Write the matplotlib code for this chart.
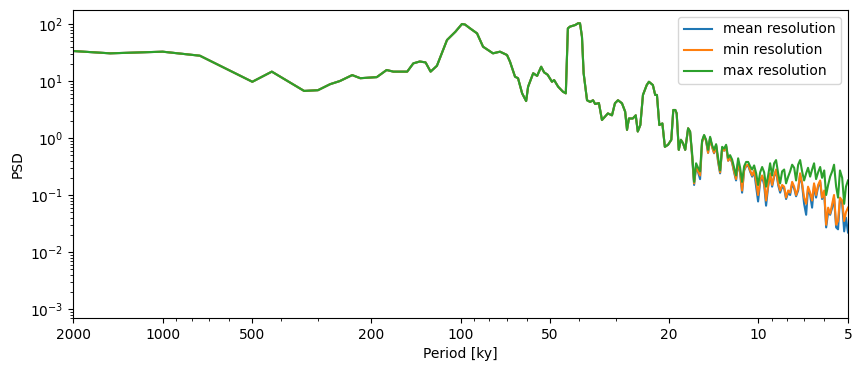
import matplotlib
matplotlib.use("Agg")
import matplotlib.pyplot as plt

# Shared part of the spectrum (periods > ~17 ky), where all three curves overlap
period_common = [2000, 1500, 1000, 750, 500, 430, 335, 301, 274, 254, 231, 217, 191, 177,
                 168, 151, 144, 137, 131, 126, 120, 111, 104, 98.9, 96.6, 92.9, 88.0, 84.0,
                 77.8, 73.7, 69.8, 68.2, 65.6, 64.1, 62.1, 60.2, 59.3, 57.0, 55.3, 53.6,
                 52.4, 51.0, 49.3, 48.5, 47.0, 45.3, 44.3, 43.6, 42.9, 41.2, 40.3, 39.7,
                 39.1, 38.6, 37.6, 36.7, 35.9, 35.3, 34.3, 33.5, 32.7, 32.0, 31.0, 30.3,
                 29.6, 28.7, 28.0, 27.6, 27.2, 26.4, 25.8, 25.4, 24.9, 24.4, 23.7, 23.3,
                 22.6, 22.2, 21.9, 21.5, 21.0, 20.6, 20.1, 19.6, 19.3, 19.0, 18.8, 18.5,
                 18.2, 17.9, 17.6]
psd_common = [33.6, 30.6, 32.7, 27.8, 9.7, 14.6, 6.7, 6.9, 8.8, 10.0, 12.7, 11.2, 11.7, 15.6,
              14.6, 14.6, 20.4, 22.0, 21.2, 14.6, 18.5, 52.4, 73.3, 100, 98, 84, 68.6, 40,
              30.6, 32.7, 28.6, 21.8, 11.9, 11.2, 6.08, 4.45, 7.94, 13.7, 12.3, 17.8,
              14.2, 12.9, 9.7, 10.4, 7.94, 6.5, 6.08, 84, 90, 96, 103, 103,
              60, 13.7, 4.6, 4.3, 4.6, 3.95, 4.1, 2.07, 2.38, 2.7, 2.5, 4.07,
              4.6, 4.07, 2.9, 1.39, 2.2, 2.2, 2.5, 1.3, 1.69, 5.7, 8.5, 9.7,
              8.5, 5.7, 5.7, 1.69, 1.8, 0.70, 0.76, 0.93, 3.1, 3.1, 2.7, 0.62,
              0.93, 0.81, 0.62]

# High-frequency tail, where the three resolutions separate
period_tail = [17.21, 16.95, 16.69, 16.43, 16.18, 15.93, 15.69, 15.45, 15.21, 14.98,
               14.75, 14.52, 14.30, 14.08, 13.86, 13.65, 13.44, 13.23, 13.03, 12.83,
               12.63, 12.44, 12.25, 12.06, 11.88, 11.69, 11.51, 11.34, 11.16, 10.99,
               10.82, 10.66, 10.49, 10.33, 10.17, 10.02, 9.86, 9.71, 9.56, 9.42,
               9.27, 9.13, 8.99, 8.85, 8.72, 8.58, 8.45, 8.32, 8.19, 8.07,
               7.94, 7.82, 7.70, 7.58, 7.47, 7.35, 7.24, 7.13, 7.02, 6.91,
               6.81, 6.70, 6.60, 6.50, 6.40, 6.30, 6.20, 6.11, 6.01, 5.92,
               5.83, 5.74, 5.65, 5.57, 5.48, 5.40, 5.32, 5.23, 5.15, 5.08, 5.00]
max_tail = [1.48, 1.30, 0.55, 0.17, 0.36, 0.30, 0.26, 0.9, 1.13, 0.93,
            0.62, 1.05, 0.75, 0.62, 0.78, 0.45, 0.27, 0.70, 0.65, 0.76,
            0.45, 0.50, 0.42, 0.30, 0.22, 0.44, 0.30, 0.17, 0.32, 0.38,
            0.38, 0.32, 0.28, 0.33, 0.24, 0.15, 0.25, 0.31, 0.25, 0.14,
            0.22, 0.36, 0.22, 0.36, 0.41, 0.24, 0.16, 0.26, 0.28, 0.16,
            0.21, 0.26, 0.34, 0.30, 0.18, 0.34, 0.41, 0.26, 0.18, 0.24,
            0.30, 0.21, 0.28, 0.36, 0.19, 0.25, 0.31, 0.20, 0.27, 0.10,
            0.15, 0.21, 0.26, 0.34, 0.14, 0.09, 0.27, 0.20, 0.07, 0.14, 0.18]
min_tail = [1.48, 1.3, 0.5, 0.16, 0.33, 0.26, 0.22, 0.85, 1.1, 0.9,
            0.55, 1.0, 0.7, 0.55, 0.74, 0.4, 0.25, 0.66, 0.6, 0.72,
            0.4, 0.46, 0.38, 0.26, 0.19, 0.38, 0.25, 0.12, 0.28, 0.33,
            0.34, 0.27, 0.22, 0.27, 0.17, 0.10, 0.18, 0.22, 0.17, 0.08,
            0.15, 0.24, 0.15, 0.22, 0.28, 0.16, 0.12, 0.15, 0.14, 0.09,
            0.12, 0.11, 0.17, 0.14, 0.10, 0.13, 0.24, 0.16, 0.09, 0.07,
            0.14, 0.11, 0.08, 0.16, 0.10, 0.15, 0.18, 0.09, 0.12, 0.03,
            0.06, 0.047, 0.07, 0.10, 0.03, 0.035, 0.09, 0.08, 0.035, 0.05, 0.06]
mean_tail = [1.48, 1.3, 0.48, 0.15, 0.32, 0.25, 0.19, 0.85, 1.1, 0.9,
             0.55, 1.0, 0.7, 0.54, 0.74, 0.38, 0.24, 0.66, 0.6, 0.72,
             0.4, 0.45, 0.37, 0.25, 0.18, 0.37, 0.24, 0.11, 0.27, 0.32,
             0.33, 0.26, 0.21, 0.26, 0.14, 0.077, 0.17, 0.21, 0.15, 0.065,
             0.14, 0.23, 0.14, 0.21, 0.27, 0.15, 0.11, 0.14, 0.13, 0.085,
             0.11, 0.10, 0.16, 0.13, 0.095, 0.12, 0.23, 0.15, 0.07, 0.045,
             0.13, 0.10, 0.06, 0.15, 0.09, 0.14, 0.17, 0.085, 0.11, 0.027,
             0.05, 0.045, 0.06, 0.09, 0.027, 0.025, 0.085, 0.07, 0.023, 0.04, 0.022]

tick_periods = [2000, 1000, 500, 200, 100, 50, 20, 10, 5]
tick_labels = ["2000", "1000", "500", "200", "100", "50", "20", "10", "5"]

period = period_common + period_tail
psd_mean = psd_common + mean_tail
psd_min = psd_common + min_tail
psd_max = psd_common + max_tail

fig = plt.figure(figsize=(8.62, 3.71), dpi=100)
ax = fig.add_axes([73 / 862, 1 - 318 / 371, 775 / 862, 308 / 371])
ax.plot(period, psd_mean, label="mean resolution")
ax.plot(period, psd_min, label="min resolution")
ax.plot(period, psd_max, label="max resolution")
ax.set_xscale("log")
ax.set_yscale("log")
ax.set_xlim(2000, 5)
ax.set_ylim(10 ** -3.158, 10 ** 2.246)
ax.set_xticks(tick_periods)
ax.set_xticklabels(tick_labels)
ax.set_xlabel("Period [ky]")
ax.set_ylabel("PSD")
ax.legend(loc="upper right")
fig.savefig("out.png", dpi=100)
